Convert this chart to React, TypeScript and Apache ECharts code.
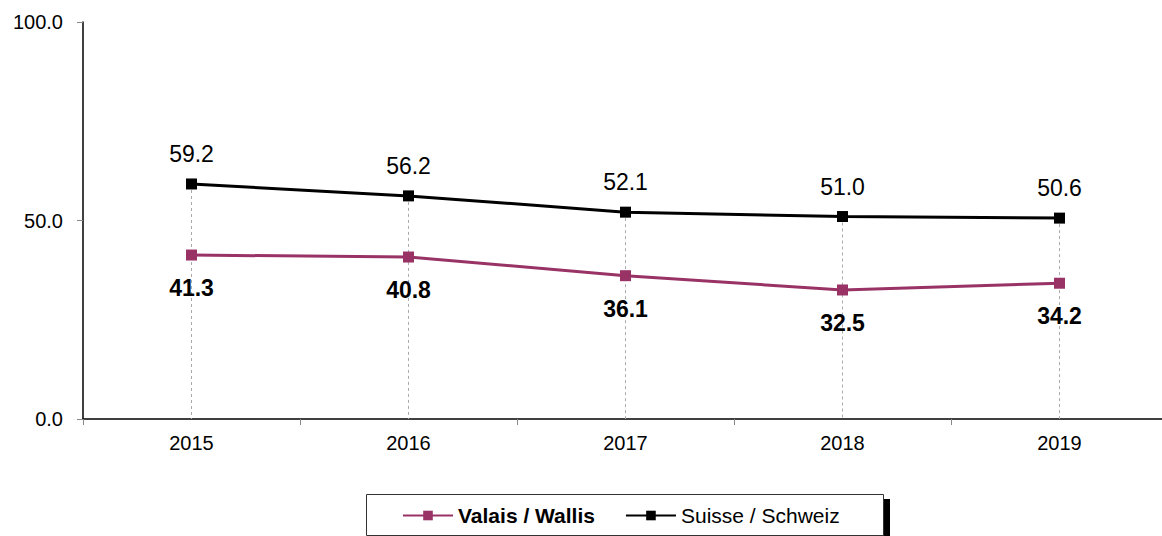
import React, { useEffect, useRef } from "react";
import * as echarts from "echarts";

const years = ["2015", "2016", "2017", "2018", "2019"];
const valais = [41.3, 40.8, 36.1, 32.5, 34.2];
const suisse = [59.2, 56.2, 52.1, 51.0, 50.6];
const seriesNames = ["Valais / Wallis", "Suisse / Schweiz"];
const FONT = "Liberation Sans, Arial, sans-serif";

export default function App() {
  const ref = useRef<HTMLDivElement>(null);
  useEffect(() => {
    document.body.style.margin = "0";
    document.body.style.overflow = "hidden";
    const chart = echarts.init(ref.current!, undefined, { renderer: "svg" });
    const option: any = {
      animation: false,
      backgroundColor: "#ffffff",
      textStyle: { fontFamily: FONT },
      grid: { left: 83, top: 22, width: 1085, height: 397, containLabel: false },
      graphic: [
        { type: "rect", z: 0, shape: { x: 371, y: 499, width: 519, height: 45 }, style: { fill: "#000" } },
        { type: "rect", z: 1, shape: { x: 366.5, y: 494.5, width: 517, height: 41 }, style: { fill: "#fff", stroke: "#333", lineWidth: 1 } },
      ],
      legend: {
        z: 10,
        left: 397,
        top: 500,
        itemWidth: 50,
        itemHeight: 12,
        itemGap: 30,
        textStyle: { fontFamily: FONT, fontSize: 21, color: "#000" },
        data: [
          { name: seriesNames[0], textStyle: { fontWeight: "bold" } },
          { name: seriesNames[1], textStyle: { fontWeight: "normal" } },
        ],
      },
      xAxis: {
        type: "category",
        data: years,
        boundaryGap: true,
        axisLine: { lineStyle: { color: "#000", width: 1.5 } },
        axisTick: { show: true, length: 6, lineStyle: { color: "#888" } },
        axisLabel: { fontFamily: FONT, fontSize: 20, color: "#000", margin: 14 },
      },
      yAxis: {
        type: "value",
        min: 0,
        max: 100,
        interval: 50,
        splitLine: { show: false },
        axisLine: { show: true, lineStyle: { color: "#000", width: 1.5 } },
        axisTick: { show: true, length: 6, lineStyle: { color: "#888" } },
        axisLabel: { fontFamily: FONT, fontSize: 20, color: "#000", margin: 20, formatter: (v: number) => v.toFixed(1) },
      },
      series: [
        {
          name: seriesNames[1],
          type: "line",
          data: suisse,
          color: "#000",
          symbol: "rect",
          symbolSize: 11,
          z: 3,
          lineStyle: { color: "#000", width: 3 },
          itemStyle: { color: "#000" },
          label: {
            show: true,
            position: "top",
            distance: 13,
            fontFamily: FONT,
            fontSize: 23,
            color: "#000",
            formatter: (p: any) => Number(p.value).toFixed(1),
          },
          markLine: {
            silent: true,
            symbol: "none",
            z: 1,
            label: { show: false },
            lineStyle: { color: "#aaa", type: [3, 3], width: 1 },
            data: suisse.map((v, i) => [{ coord: [i, v] }, { coord: [i, 0] }]),
          },
        },
        {
          name: seriesNames[0],
          type: "line",
          data: valais,
          color: "#993366",
          symbol: "rect",
          symbolSize: 11,
          z: 4,
          lineStyle: { color: "#993366", width: 3 },
          itemStyle: { color: "#993366" },
          label: {
            show: true,
            position: "bottom",
            distance: 16,
            fontFamily: FONT,
            fontSize: 23,
            fontWeight: "bold",
            color: "#000",
            formatter: (p: any) => Number(p.value).toFixed(1),
          },
        },
      ],
    };
    chart.setOption(option);
    return () => chart.dispose();
  }, []);
  return <div ref={ref} style={{ width: 1172, height: 536 }} />;
}
